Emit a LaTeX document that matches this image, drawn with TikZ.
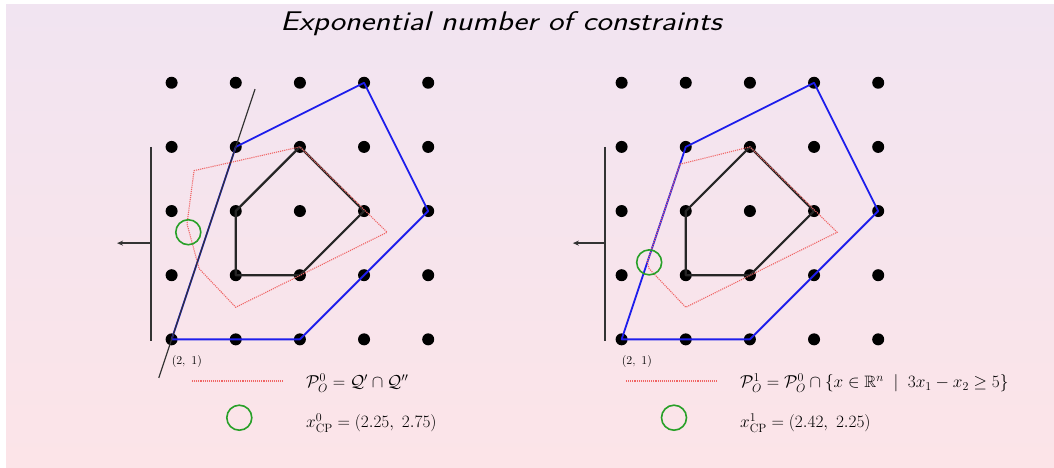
\documentclass[tikz,border=0pt]{standalone}
\usepackage{amsmath,amssymb}
\usetikzlibrary{arrows.meta}

\definecolor{bgtop}{RGB}{241,228,241}
\definecolor{bgbot}{RGB}{252,228,232}
\definecolor{cutred}{RGB}{240,100,100}
\definecolor{cpgreen}{RGB}{40,160,40}
\definecolor{polyblue}{RGB}{30,30,235}

\begin{document}
\begin{tikzpicture}[
    x=1pt, y=-1pt,
    dot/.style={circle, fill=black, inner sep=0pt, minimum size=12pt},
    hull/.style={draw=black!85, line width=2.2pt, line join=round},
    outer/.style={draw=polyblue, line width=1.8pt, line join=round},
    relax/.style={draw=cutred, densely dotted, line width=1.1pt},
    bar/.style={draw=black!80, line width=1.4pt},
    cp/.style={circle, draw=cpgreen, line width=1.6pt, inner sep=0pt, minimum size=25pt},
    lbl/.style={anchor=west, inner sep=0pt, font=\fontsize{16.5}{19}\selectfont},
    corner/.style={anchor=north west, inner sep=0pt, font=\fontsize{12}{14}\selectfont}
]

    \useasboundingbox (0,0) rectangle (1054,468);
    \shade[top color=bgtop, bottom color=bgbot] (6,5) rectangle (1054,468);

    % Title
    \node[font=\fontsize{27}{32}\sffamily\itshape] (title) at (501,24)
        {\scalebox{1.21}[1]{Exponential number of constraints}};

    % Left panel
    \begin{scope}[shift={(43.3,403.5)}, x=64.15pt, y=64.15pt]
        \foreach \i in {2,...,6}
            \foreach \j in {1,...,5}
                \node[dot] (a\i\j) at (\i,\j) {};

        \draw[outer] (a21.center) -- (a34.center) -- (a55.center) -- (a63.center)
            -- (a52.center) -- (a41.center) -- cycle;
        \draw[hull] (a33.center) -- (a44.center) -- (a53.center) -- (a42.center)
            -- (a32.center) -- cycle;

        % Relaxation P0
        \coordinate (ra) at (2.35,3.63);
        \coordinate (rc) at (5.36,2.67);
        \coordinate (rd) at (3.0,1.5);
        \coordinate (re) at (2.43,2.1);
        \coordinate (rf) at (2.24,2.8);
        \draw[relax] (ra) -- (a44.center) -- (rc) -- (rd) -- (re) -- (rf) -- cycle;

        % Cut 3x1 - x2 = 5
        \coordinate (ca) at (1.8,0.4);
        \coordinate (cb) at (3.3,4.9);
        \draw[bar, line width=1.2pt] (ca) -- (cb);

        % Objective direction
        \coordinate (va) at (1.68,4.0);
        \coordinate (vb) at (1.68,0.98);
        \coordinate (vc) at (1.68,2.5);
        \coordinate (vd) at (1.15,2.5);
        \draw[bar] (va) -- (vb);
        \draw[bar, -{Stealth[length=6pt, width=5pt]}] (vc) -- (vd);

        \node[cp] (cpa) at (2.26,2.67) {};
        \node[corner] (oa) at ([yshift=-16pt]a21.center) {$(2,\ 1)$};
    \end{scope}

    % Right panel
    \begin{scope}[shift={(493.3,403.5)}, x=64.15pt, y=64.15pt]
        \foreach \i in {2,...,6}
            \foreach \j in {1,...,5}
                \node[dot] (b\i\j) at (\i,\j) {};

        \draw[outer] (b21.center) -- (b34.center) -- (b55.center) -- (b63.center)
            -- (b52.center) -- (b41.center) -- cycle;
        \draw[hull] (b33.center) -- (b44.center) -- (b53.center) -- (b42.center)
            -- (b32.center) -- cycle;

        % Relaxation P1
        \coordinate (sg) at (2.91,3.73);
        \coordinate (sc) at (5.36,2.67);
        \coordinate (sd) at (3.0,1.5);
        \coordinate (se) at (2.43,2.1);
        \coordinate (sh) at (2.40,2.2);
        \draw[relax] (sg) -- (b44.center) -- (sc) -- (sd) -- (se) -- (sh) -- cycle;

        % Objective direction
        \coordinate (wa) at (1.74,4.0);
        \coordinate (wb) at (1.74,0.98);
        \coordinate (wc) at (1.74,2.5);
        \coordinate (wd) at (1.24,2.5);
        \draw[bar] (wa) -- (wb);
        \draw[bar, -{Stealth[length=6pt, width=5pt]}] (wc) -- (wd);

        \node[cp] (cpb) at (2.43,2.2) {};
        \node[corner] (ob) at ([yshift=-16pt]b21.center) {$(2,\ 1)$};
    \end{scope}

    % Legend left
    \coordinate (ka) at (192,381);
    \coordinate (kb) at (284,381);
    \draw[relax] (ka) -- (kb);
    \node[lbl] (ta) at (306,383) {$\mathcal{P}^0_O = \mathcal{Q}' \cap \mathcal{Q}''$};
    \node[cp] (kc) at (239.3,417.7) {};
    \node[lbl] (tb) at (306,423) {$x^0_{\mathrm{CP}} = (2.25,\ 2.75)$};

    % Legend right
    \coordinate (la) at (626,381);
    \coordinate (lb) at (717,381);
    \draw[relax] (la) -- (lb);
    \node[lbl] (tc) at (740,383)
        {$\mathcal{P}^1_O = \mathcal{P}^0_O \cap \{x \in \mathbb{R}^n \;\mid\; 3x_1 - x_2 \geq 5\}$};
    \node[cp] (lc) at (674,417.7) {};
    \node[lbl] (td) at (740,423) {$x^1_{\mathrm{CP}} = (2.42,\ 2.25)$};

\end{tikzpicture}
\end{document}
